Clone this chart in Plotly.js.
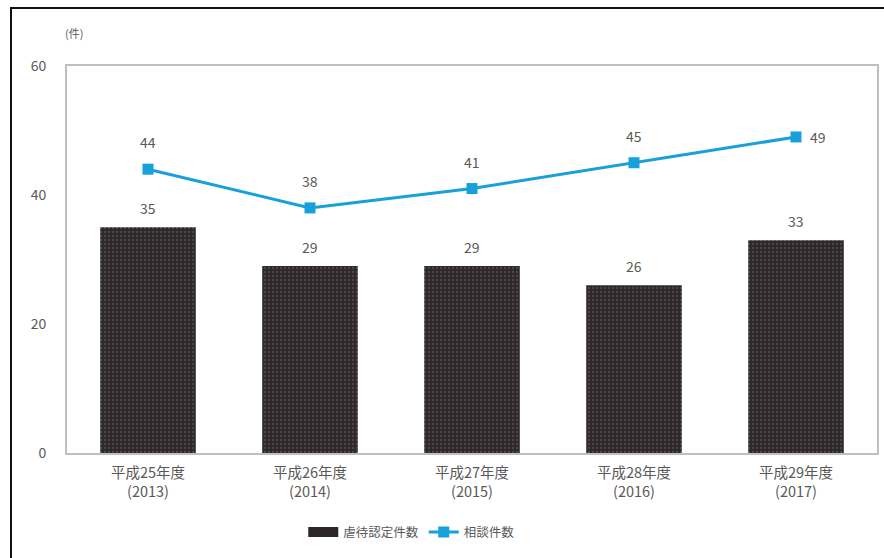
<!DOCTYPE html>
<html>
<head>
<meta charset="utf-8">
<script src="https://cdn.plot.ly/plotly-3.0.1.min.js"></script>
<style>
html,body{margin:0;padding:0;background:#fff;}
#chart{position:absolute;left:0;top:0;width:884px;height:558px;}
#frame{position:absolute;left:10px;top:7px;width:880px;height:560px;border-left:2px solid #111;border-top:2px solid #111;pointer-events:none;}
</style>
</head>
<body>
<div id="chart"></div>
<div id="frame"></div>
<script>
const categories = ['平成25年度', '平成26年度', '平成27年度', '平成28年度', '平成29年度'];
const years = ['(2013)', '(2014)', '(2015)', '(2016)', '(2017)'];
const abuseCounts = [35, 29, 29, 26, 33];
const consultCounts = [44, 38, 41, 45, 49];
const yTicks = [0, 20, 40, 60];
const barName = '虐待認定件数';
const lineName = '相談件数';
const unitLabel = '(件)';

const font = 'Noto Sans CJK JP, Noto Sans, sans-serif';
const grey = '#595959';
const barColor = '#2c2728';

const traces = [
  {
    type: 'bar', x: categories, y: abuseCounts, name: barName, showlegend: false,
    marker: {color: barColor, line: {width: 0},
      pattern: {shape: '.', fgcolor: '#4d4648', bgcolor: barColor, size: 4, solidity: 0.3}},
    hoverinfo: 'none'
  },
  {
    type: 'scatter', mode: 'lines', x: [categories[0]], y: [null], name: barName,
    line: {color: barColor, width: 10}, hoverinfo: 'none'
  },
  {
    type: 'scatter', mode: 'lines+markers', x: categories, y: consultCounts, name: lineName,
    line: {color: '#17a0da', width: 3},
    marker: {symbol: 'square', size: 11, color: '#17a0da'},
    hoverinfo: 'none'
  }
];

const annotations = [];
abuseCounts.forEach((v, i) => annotations.push({
  x: categories[i], y: v, xref: 'x', yref: 'y', text: String(v), showarrow: false,
  yanchor: 'bottom', yshift: 7, font: {family: font, size: 14, color: grey}
}));
consultCounts.forEach((v, i) => {
  const last = i === consultCounts.length - 1;
  annotations.push({
    x: categories[i], y: v, xref: 'x', yref: 'y', text: String(v), showarrow: false,
    yanchor: last ? 'middle' : 'bottom', xanchor: last ? 'left' : 'center',
    yshift: last ? 0 : 15, xshift: last ? 12 : 0,
    font: {family: font, size: 14, color: grey}
  });
});
annotations.push({
  x: -0.005, y: 1.085, xref: 'paper', yref: 'paper', text: unitLabel, showarrow: false,
  xanchor: 'left', yanchor: 'middle', font: {family: font, size: 11, color: grey}
});

const layout = {
  width: 884, height: 558,
  margin: {l: 67, r: 7, t: 66, b: 105},
  paper_bgcolor: '#fff', plot_bgcolor: '#fff',
  bargap: 0.41,
  showlegend: true,
  legend: {orientation: 'h', x: 0.425, xanchor: 'center', y: -0.205, yanchor: 'middle',
    font: {family: font, size: 12.5, color: grey}, itemwidth: 30, traceorder: 'normal',
    tracegroupgap: 0},
  xaxis: {
    type: 'category',
    tickvals: categories, ticktext: categories.map((c, i) => c + '<br>' + years[i]),
    showline: true, mirror: true, linecolor: '#bfbfbf', linewidth: 2,
    ticks: '', showgrid: false, ticklabelstandoff: 6,
    tickfont: {family: font, size: 14.5, color: grey},
    fixedrange: true
  },
  yaxis: {
    range: [0, 60], tickvals: yTicks, ticktext: yTicks.map(String),
    showline: true, mirror: true, linecolor: '#bfbfbf', linewidth: 2,
    showgrid: false, zeroline: false, ticks: '', ticklabelstandoff: 16,
    tickfont: {family: font, size: 14, color: grey}, fixedrange: true
  },
  annotations: annotations,
  font: {family: font}
};

Plotly.newPlot('chart', traces, layout, {displayModeBar: false, staticPlot: true});
</script>
</body>
</html>
